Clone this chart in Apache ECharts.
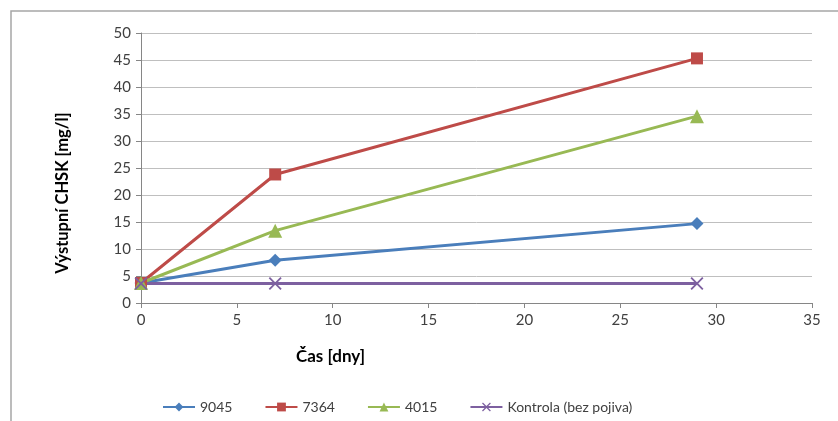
<!DOCTYPE html>
<html>
<head>
<meta charset="utf-8">
<script src="https://cdn.jsdelivr.net/npm/echarts@6/dist/echarts.min.js"></script>
<style>
  html, body { margin: 0; padding: 0; background: #ffffff; }
  #chart { width: 838px; height: 421px; }
</style>
</head>
<body>
<div id="chart"></div>
<script>
// Sampling days
const days = [0, 7, 29];

// Output COD (CHSK) values in mg/l for each binder
const s9045 = [3.7, 7.9, 14.7];
const s7364 = [3.7, 23.8, 45.3];
const s4015 = [3.7, 13.4, 34.6];
const sKontrola = [3.6, 3.6, 3.6];

const seriesNames = ['9045', '7364', '4015', 'Kontrola (bez pojiva)'];
const seriesColors = ['#4a7ebb', '#be4b48', '#98b954', '#7d60a0'];

const xTitle = 'Čas [dny]';
const yTitle = 'Výstupní CHSK [mg/l]';

const FONT = 'Lato, "Open Sans", sans-serif';
const crossPath = 'path://M0,1 L1,0 L5,4 L9,0 L10,1 L6,5 L10,9 L9,10 L5,6 L1,10 L0,9 L4,5 Z';

function pairs(values) {
  return days.map((d, i) => [d, values[i]]);
}

function makeSeries(name, values, color, symbol, size) {
  return {
    name: name,
    type: 'line',
    data: pairs(values),
    symbol: symbol,
    symbolSize: size,
    showAllSymbol: true,
    lineStyle: { color: color, width: 3 },
    itemStyle: { color: color },
    emphasis: { disabled: true },
    animation: false
  };
}

const chart = echarts.init(document.getElementById('chart'), null, { renderer: 'canvas' });

chart.setOption({
  backgroundColor: '#ffffff',
  animation: false,
  textStyle: { fontFamily: FONT },
  grid: { left: 141, right: 26, top: 33, bottom: 118 },
  graphic: [
    {
      type: 'rect',
      silent: true,
      shape: { x: 11, y: 11, width: 1000, height: 1000 },
      style: { fill: 'none', stroke: '#a6a6a6', lineWidth: 1.5 }
    },
    {
      type: 'text',
      silent: true,
      x: 296,
      y: 357,
      style: { text: xTitle, font: 'bold 17px ' + FONT, fill: '#000000', textAlign: 'left', textVerticalAlign: 'middle' }
    },
    {
      type: 'text',
      silent: true,
      x: 63,
      y: 193,
      rotation: Math.PI / 2,
      style: { text: yTitle, font: 'bold 16.5px ' + FONT, fill: '#000000', textAlign: 'center', textVerticalAlign: 'middle' }
    }
  ],
  legend: {
    left: 157,
    top: 395,
    itemWidth: 32,
    itemHeight: 11,
    itemGap: 32,
    data: seriesNames,
    textStyle: { fontSize: 14, color: '#404040', fontFamily: FONT }
  },
  xAxis: {
    type: 'value',
    min: 0,
    max: 35,
    interval: 5,
    axisLine: { show: true, lineStyle: { color: '#868686', width: 1 } },
    axisTick: { show: true, length: 5, lineStyle: { color: '#868686' } },
    splitLine: { show: false },
    axisLabel: { margin: 10, fontSize: 15, color: '#404040', fontFamily: FONT }
  },
  yAxis: {
    type: 'value',
    min: 0,
    max: 50,
    interval: 5,
    axisLine: { show: true, lineStyle: { color: '#868686', width: 1 } },
    axisTick: { show: true, length: 5, lineStyle: { color: '#868686' } },
    splitLine: { show: true, lineStyle: { color: '#bfbfbf', width: 1 } },
    axisLabel: { margin: 10, fontSize: 15, color: '#404040', fontFamily: FONT }
  },
  series: [
    makeSeries(seriesNames[0], s9045, seriesColors[0], 'diamond', 13),
    makeSeries(seriesNames[1], s7364, seriesColors[1], 'rect', 12),
    makeSeries(seriesNames[2], s4015, seriesColors[2], 'triangle', 14),
    makeSeries(seriesNames[3], sKontrola, seriesColors[3], crossPath, 13)
  ]
});
</script>
</body>
</html>
